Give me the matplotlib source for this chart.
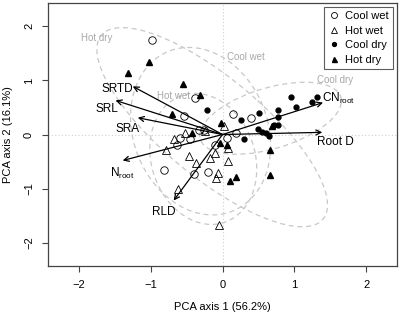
import numpy as np
import matplotlib
matplotlib.use("Agg")
import matplotlib.pyplot as plt
from matplotlib.patches import Ellipse

plt.rcParams['font.family'] = ['Liberation Sans', 'DejaVu Sans']
plt.rcParams['mathtext.fontset'] = 'custom'
plt.rcParams['mathtext.rm'] = 'Liberation Sans'
plt.rcParams['mathtext.it'] = 'Liberation Sans'

# site scores (PCA axis 1, PCA axis 2)
cool_wet_x = [-0.98, -0.38, -0.54, -0.59, -0.45, -0.33, -0.26, 0.14, 0.40, 0.19, 0.06, -0.81, -0.63, -0.39, -0.20, -0.11]
cool_wet_y = [1.74, 0.68, 0.34, -0.06, -0.08, 0.09, 0.09, 0.38, 0.30, 0.02, -0.07, -0.65, -0.19, -0.73, -0.69, -0.19]

hot_wet_x = [-0.79, -0.68, -0.52, -0.47, -0.37, -0.62, -0.18, -0.11, -0.06, -0.09, -0.05, 0.07, 0.02, 0.07, -0.24]
hot_wet_y = [-0.29, -0.09, 0.02, -0.39, -0.52, -1.00, -0.43, -0.35, -0.71, -0.80, -1.67, -0.49, 0.15, -0.25, 0.06]

cool_dry_x = [0.95, 1.03, 1.24, 1.32, 0.77, 0.77, 0.51, 0.26, -0.22, 0.50, 0.55, 0.60, 0.65, 0.77, 0.72, 0.30]
cool_dry_y = [0.69, 0.51, 0.61, 0.69, 0.46, 0.33, 0.40, 0.27, 0.46, 0.10, 0.04, 0.02, -0.03, 0.17, 0.17, -0.08]

hot_dry_x = [-1.03, -1.31, -0.55, -0.31, -0.70, -0.43, -0.02, 0.69, -0.03, 0.06, 0.66, 0.66, 0.11, 0.19]
hot_dry_y = [1.34, 1.14, 0.94, 0.73, 0.37, 0.02, 0.22, 0.15, -0.15, -0.20, -0.28, -0.74, -0.86, -0.79]

# variable loadings (arrow tips) and where their labels sit
var_names = ['SRTD', 'SRL', 'SRA', r'N$_{\rm root}$', 'RLD', r'CN$_{\rm root}$', 'Root D']
var_x = [-1.25, -1.49, -1.18, -1.39, -0.68, 1.40, 1.39]
var_y = [0.89, 0.63, 0.31, -0.48, -1.22, 0.59, 0.04]
lab_x = [-1.46, -1.61, -1.32, -1.40, -0.82, 1.62, 1.57]
lab_y = [0.85, 0.48, 0.11, -0.72, -1.44, 0.67, -0.13]

# group names written next to the ellipses
group_names = ['Hot dry', 'Hot wet', 'Cool wet', 'Cool dry']
group_lab_x = [-1.75, -0.68, 0.32, 1.57]
group_lab_y = [1.78, 0.72, 1.43, 1.00]

fig = plt.figure(figsize=(4.0, 3.18), dpi=100)
ax = fig.add_axes([0.12, 0.1635, 0.8725, 0.827])

# dotted zero lines
ax.axhline(0, color='#cfcfcf', lw=0.8, ls=(0, (1, 2)), zorder=0)
ax.axvline(0, color='#cfcfcf', lw=0.8, ls=(0, (1, 2)), zorder=0)

# 95% data ellipses per group
def draw_ellipse(xs, ys, r=2.6):
    pts = np.column_stack([xs, ys])
    cov = np.cov(pts, rowvar=False)
    vals, vecs = np.linalg.eigh(cov)
    ang = np.degrees(np.arctan2(vecs[1, 1], vecs[0, 1]))
    e = Ellipse(pts.mean(axis=0), 2 * r * np.sqrt(vals[1]), 2 * r * np.sqrt(vals[0]),
                angle=ang, fill=False, ec='#c8c8c8', lw=0.9, ls=(0, (4, 3)), zorder=1)
    ax.add_patch(e)

for xs, ys in [(cool_wet_x, cool_wet_y), (hot_wet_x, hot_wet_y),
               (cool_dry_x, cool_dry_y), (hot_dry_x, hot_dry_y)]:
    draw_ellipse(xs, ys)

for name, gx, gy in zip(group_names, group_lab_x, group_lab_y):
    ax.text(gx, gy, name, color='#a8a8a8', fontsize=7, ha='center', va='center')

# points
ax.plot(cool_wet_x, cool_wet_y, 'o', mfc='none', mec='black', mew=0.6, ms=5.4, ls='none', label='Cool wet', zorder=3)
ax.plot(hot_wet_x, hot_wet_y, '^', mfc='none', mec='black', mew=0.6, ms=5.8, ls='none', label='Hot wet', zorder=3)
ax.plot(cool_dry_x, cool_dry_y, 'o', color='black', ms=3.5, ls='none', label='Cool dry', zorder=3)
ax.plot(hot_dry_x, hot_dry_y, '^', color='black', ms=4.5, ls='none', label='Hot dry', zorder=3)

# loading arrows
for name, vx, vy, tx, ty in zip(var_names, var_x, var_y, lab_x, lab_y):
    ax.annotate('', xy=(vx, vy), xytext=(0, 0),
                arrowprops=dict(arrowstyle='->', color='black', lw=0.9,
                                shrinkA=0, shrinkB=0, mutation_scale=9), zorder=4)
    ax.text(tx, ty, name, fontsize=8.5, ha='center', va='center')

ax.set_xlim(-2.43, 2.43)
ax.set_ylim(-2.43, 2.43)
ax.set_xticks([-2, -1, 0, 1, 2])
ax.set_yticks([-2, -1, 0, 1, 2])
ax.tick_params(labelsize=8, length=4, width=0.8, color='#444444', pad=6)
for lab in ax.get_yticklabels():
    lab.set_rotation(90)
    lab.set_va('center')
for sp in ax.spines.values():
    sp.set_color('#444444')
    sp.set_linewidth(0.9)

ax.set_xlabel('PCA axis 1 (56.2%)', fontsize=8, labelpad=9)
ax.set_ylabel('PCA axis 2 (16.1%)', fontsize=8, labelpad=8)

# legend with small symbols, as in base R
handles, labels = ax.get_legend_handles_labels()
leg = ax.legend(handles, labels, loc='upper right', fontsize=8, frameon=True, fancybox=False,
                edgecolor='#333333', handletextpad=0.5, borderpad=0.35,
                labelspacing=0.4, handlelength=1.0, borderaxespad=0.4, markerscale=0.8)
leg.get_frame().set_linewidth(0.8)

fig.savefig('out.png', dpi=100)
